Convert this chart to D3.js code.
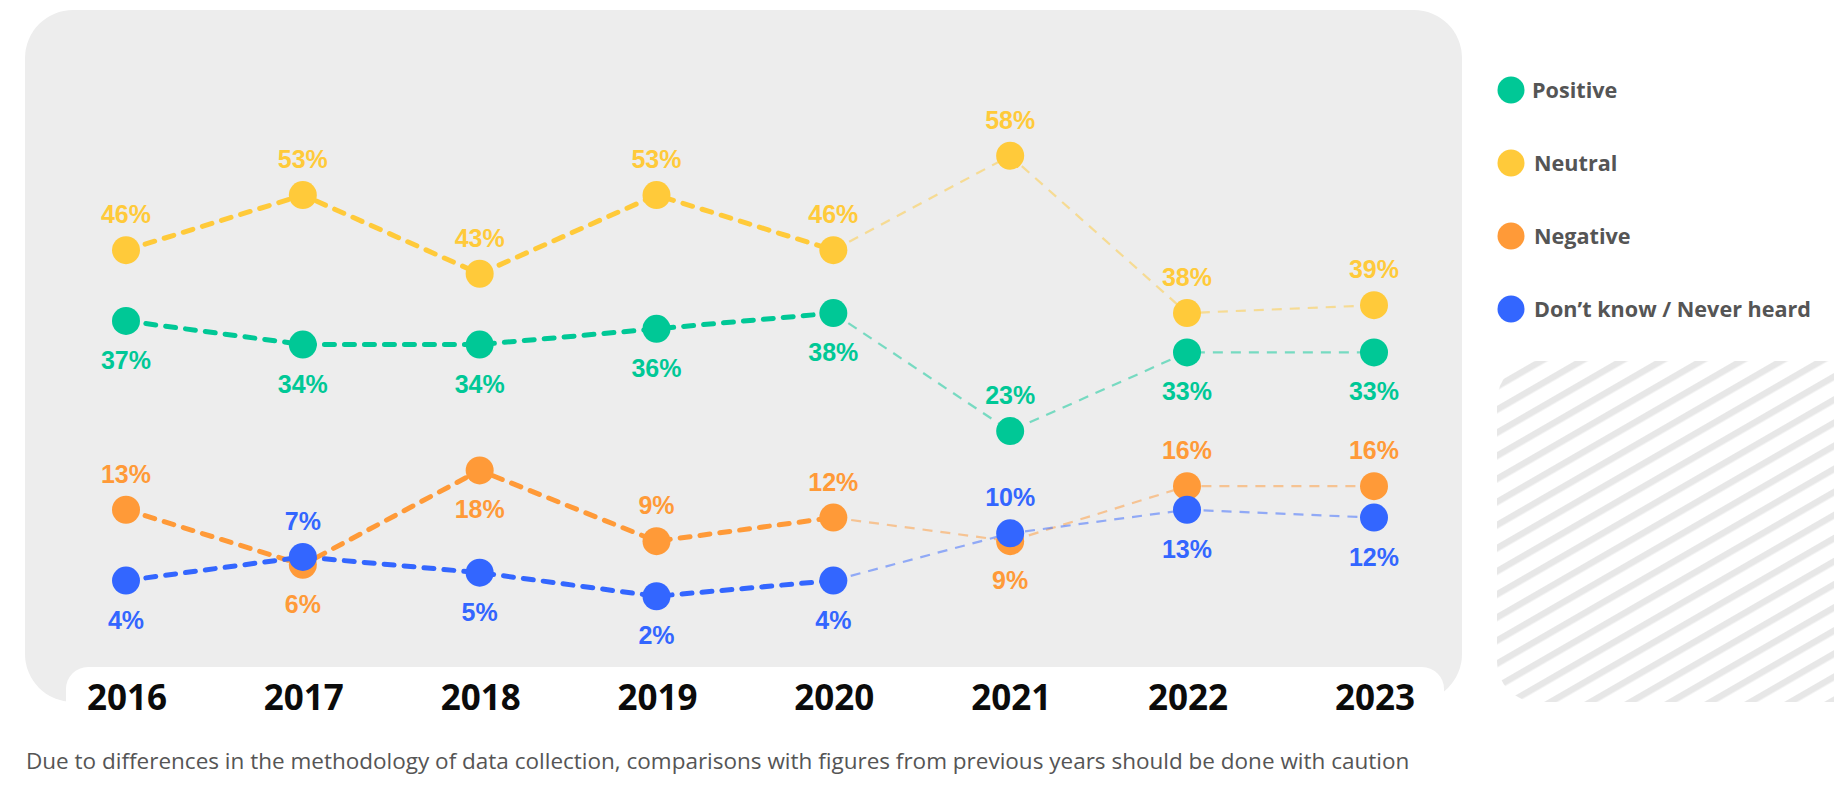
<!DOCTYPE html>
<html>
<head>
<meta charset="utf-8">
<script src="https://cdn.jsdelivr.net/npm/d3@7"></script>
<style>
  html, body { margin: 0; padding: 0; background: #ffffff; }
  svg { display: block; }
</style>
</head>
<body>
<svg id="chart" width="1834" height="792"></svg>
<script>
// ---------------- data ----------------
const years = ["2016", "2017", "2018", "2019", "2020", "2021", "2022", "2023"];
const seriesNames = ["Positive", "Neutral", "Negative", "Don\u2019t know / Never heard"];
const positive = [37, 34, 34, 36, 38, 23, 33, 33];
const neutral  = [46, 53, 43, 53, 46, 58, 38, 39];
const negative = [13, 6, 18, 9, 12, 9, 16, 16];
const dontKnow = [4, 7, 5, 2, 4, 10, 13, 12];
// label side: 1 = above the point, 0 = below
const positiveSide = [0, 0, 0, 0, 0, 1, 0, 0];
const neutralSide  = [1, 1, 1, 1, 1, 1, 1, 1];
const negativeSide = [1, 0, 0, 1, 1, 0, 1, 1];
const dontKnowSide = [0, 1, 0, 0, 0, 1, 0, 0];
const footnote = "Due to differences in the methodology of data collection, comparisons with figures from previous years should be done with caution";
const lastComparableYear = "2020";

// ---------------- styles ----------------
const colors = ["#00C896", "#FFCA3A", "#FF9A38", "#3366FF"];
const series = [
  { name: seriesNames[0], values: positive, side: positiveSide, color: colors[0] },
  { name: seriesNames[1], values: neutral,  side: neutralSide,  color: colors[1] },
  { name: seriesNames[2], values: negative, side: negativeSide, color: colors[2] },
  { name: seriesNames[3], values: dontKnow, side: dontKnowSide, color: colors[3] }
];

const svg = d3.select("#chart");

// hatch pattern
const defs = svg.append("defs");
const pat = defs.append("pattern")
  .attr("id", "hatch")
  .attr("patternUnits", "userSpaceOnUse")
  .attr("width", 20).attr("height", 20)
  .attr("patternTransform", "rotate(-30)");
pat.append("rect").attr("width", 20).attr("height", 20).attr("fill", "#ffffff");
pat.append("rect").attr("width", 20).attr("height", 6.5).attr("fill", "#E7E7E7");

// panel background
svg.append("rect")
  .attr("x", 25).attr("y", 10).attr("width", 1437).attr("height", 692)
  .attr("rx", 48).attr("ry", 48)
  .attr("fill", "#EDEDED");
// white axis tab
svg.append("rect")
  .attr("x", 66).attr("y", 667).attr("width", 1378).attr("height", 90)
  .attr("rx", 22).attr("ry", 22)
  .attr("fill", "#ffffff");

// hatched box
svg.append("rect")
  .attr("x", 1497).attr("y", 361).attr("width", 420).attr("height", 341)
  .attr("rx", 40).attr("ry", 40)
  .attr("fill", "url(#hatch)");

// ---------------- scales ----------------
const idx = d3.range(years.length);
const x = d3.scaleLinear()
  .domain([0, years.length - 2, years.length - 1])
  .range([126, 1187, 1374]);
const y = d3.scaleLinear().domain([0, 60]).range([612, 140]);

const cut = years.indexOf(lastComparableYear);
const line = d3.line().x(d => x(d.i)).y(d => y(d.v));

const plot = svg.append("g");

series.forEach(s => {
  const pts = s.values.map((v, i) => ({ i, v }));
  const g = plot.append("g");
  // later (non comparable) segment: thin, light dashed
  g.append("path")
    .attr("d", line(pts.slice(cut)))
    .attr("fill", "none")
    .attr("stroke", s.color)
    .attr("stroke-opacity", 0.5)
    .attr("stroke-width", 2.2)
    .attr("stroke-dasharray", "10,8");
  // comparable segment: thick dashed
  g.append("path")
    .attr("d", line(pts.slice(0, cut + 1)))
    .attr("fill", "none")
    .attr("stroke", s.color)
    .attr("stroke-width", 5)
    .attr("stroke-linecap", "round")
    .attr("stroke-dasharray", "10,10");
  g.selectAll("circle")
    .data(pts)
    .join("circle")
    .attr("cx", d => x(d.i))
    .attr("cy", d => y(d.v))
    .attr("r", 14)
    .attr("fill", s.color);
  s.pts = pts;
});

// value labels
series.forEach(s => {
  plot.append("g").selectAll("text")
    .data(s.pts)
    .join("text")
    .attr("x", d => x(d.i))
    .attr("y", d => s.side[d.i] ? y(d.v) - 27 : y(d.v) + 48)
    .attr("text-anchor", "middle")
    .attr("font-family", "'Liberation Sans', Arial, sans-serif")
    .attr("font-weight", 700)
    .attr("font-size", 25)
    .attr("fill", s.color)
    .text(d => d.v + "%");
});

// x axis labels
svg.append("g").selectAll("text")
  .data(idx)
  .join("text")
  .attr("x", i => x(i) + 1)
  .attr("y", 710)
  .attr("text-anchor", "middle")
  .attr("font-family", "'Open Sans', sans-serif")
  .attr("font-weight", 700)
  .attr("font-size", 35)
  .attr("fill", "#0b0b0b")
  .text(i => years[i]);

// legend
const leg = svg.append("g").selectAll("g")
  .data(series)
  .join("g")
  .attr("transform", (d, i) => `translate(1511, ${90 + i * 73})`);
leg.append("circle").attr("r", 13.5).attr("fill", d => d.color);
leg.append("text")
  .attr("x", (d, i) => i === 0 ? 21 : 23)
  .attr("y", 8)
  .attr("font-family", "'Open Sans', sans-serif")
  .attr("font-weight", 700)
  .attr("font-size", 21.6)
  .attr("fill", "#555555")
  .text(d => d.name);

// footnote
svg.append("text")
  .attr("x", 26).attr("y", 769)
  .attr("font-family", "'Open Sans', sans-serif")
  .attr("font-size", 22.5)
  .attr("fill", "#555555")
  .text(footnote);
</script>
</body>
</html>
